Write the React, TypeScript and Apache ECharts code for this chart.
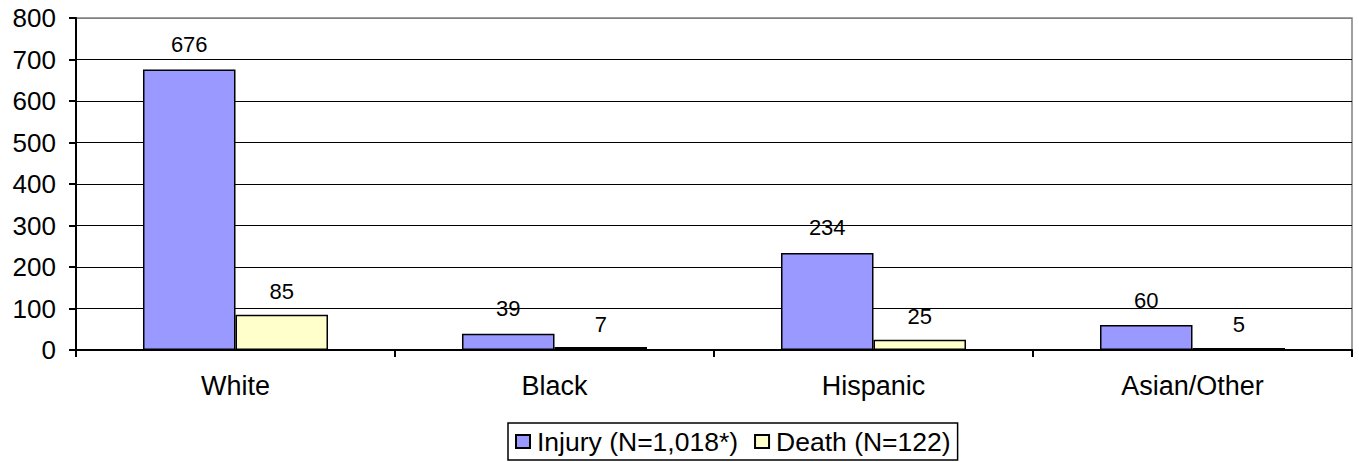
import React, { useEffect, useRef } from "react";
import * as echarts from "echarts";

const categories = ["White", "Black", "Hispanic", "Asian/Other"];
const injury = [676, 39, 234, 60];
const death = [85, 7, 25, 5];
const seriesNames = ["Injury (N=1,018*)", "Death (N=122)"];

export default function App() {
  const ref = useRef<HTMLDivElement>(null);
  useEffect(() => {
    if (!ref.current) return;
    const chart = echarts.init(ref.current, null, { renderer: "svg" });
    const font = "'Liberation Sans', Arial, sans-serif";
    chart.setOption({
      animation: false,
      backgroundColor: "#ffffff",
      textStyle: { fontFamily: font },
      grid: {
        left: 76,
        right: 7,
        top: 18,
        bottom: 112,
        show: true,
        borderColor: "#808080",
        borderWidth: 1.5,
        backgroundColor: "transparent",
      },
      legend: {
        data: seriesNames,
        left: 508,
        top: 423,
        itemWidth: 14,
        itemHeight: 13,
        itemGap: 16,
        padding: [5, 7],
        borderColor: "#000",
        borderWidth: 1.5,
        icon: "rect",
        textStyle: { fontSize: 26.5, color: "#000", fontFamily: font, padding: [0, 0, 0, 2] },
      },
      xAxis: {
        type: "category",
        data: categories,
        axisLine: { lineStyle: { color: "#000", width: 2 } },
        axisTick: { show: true, length: 7, lineStyle: { color: "#000", width: 2 } },
        axisLabel: { fontSize: 27, color: "#000", margin: 22, fontFamily: font },
        splitLine: { show: false },
      },
      yAxis: {
        type: "value",
        min: 0,
        max: 800,
        interval: 100,
        axisLine: { show: true, lineStyle: { color: "#000", width: 2 } },
        axisTick: { show: true, length: 7, lineStyle: { color: "#000", width: 2 } },
        axisLabel: { fontSize: 26, color: "#000", margin: 20, fontFamily: font },
        splitLine: {
          show: true,
          lineStyle: {
            color: ["#000", "#000", "#000", "#000", "#000", "#000", "#000", "#000", "#808080"],
            width: 1,
          },
        },
      },
      series: [
        {
          name: seriesNames[0],
          type: "bar",
          data: injury,
          barGap: "0%",
          barCategoryGap: "42%",
          itemStyle: { color: "#9999FF", borderColor: "#000", borderWidth: 1.5 },
          label: { show: true, position: "top", distance: 14, fontSize: 22, color: "#000", fontFamily: font },
        },
        {
          name: seriesNames[1],
          type: "bar",
          data: death,
          barGap: "0%",
          barCategoryGap: "42%",
          itemStyle: { color: "#FFFFCC", borderColor: "#000", borderWidth: 1.5 },
          label: { show: true, position: "top", distance: 12, fontSize: 22, color: "#000", fontFamily: font },
        },
      ],
    });
    return () => chart.dispose();
  }, []);
  return (
    <div
      ref={ref}
      style={{ position: "fixed", left: 0, top: 0, width: 1359, height: 462, background: "#fff" }}
    />
  );
}
